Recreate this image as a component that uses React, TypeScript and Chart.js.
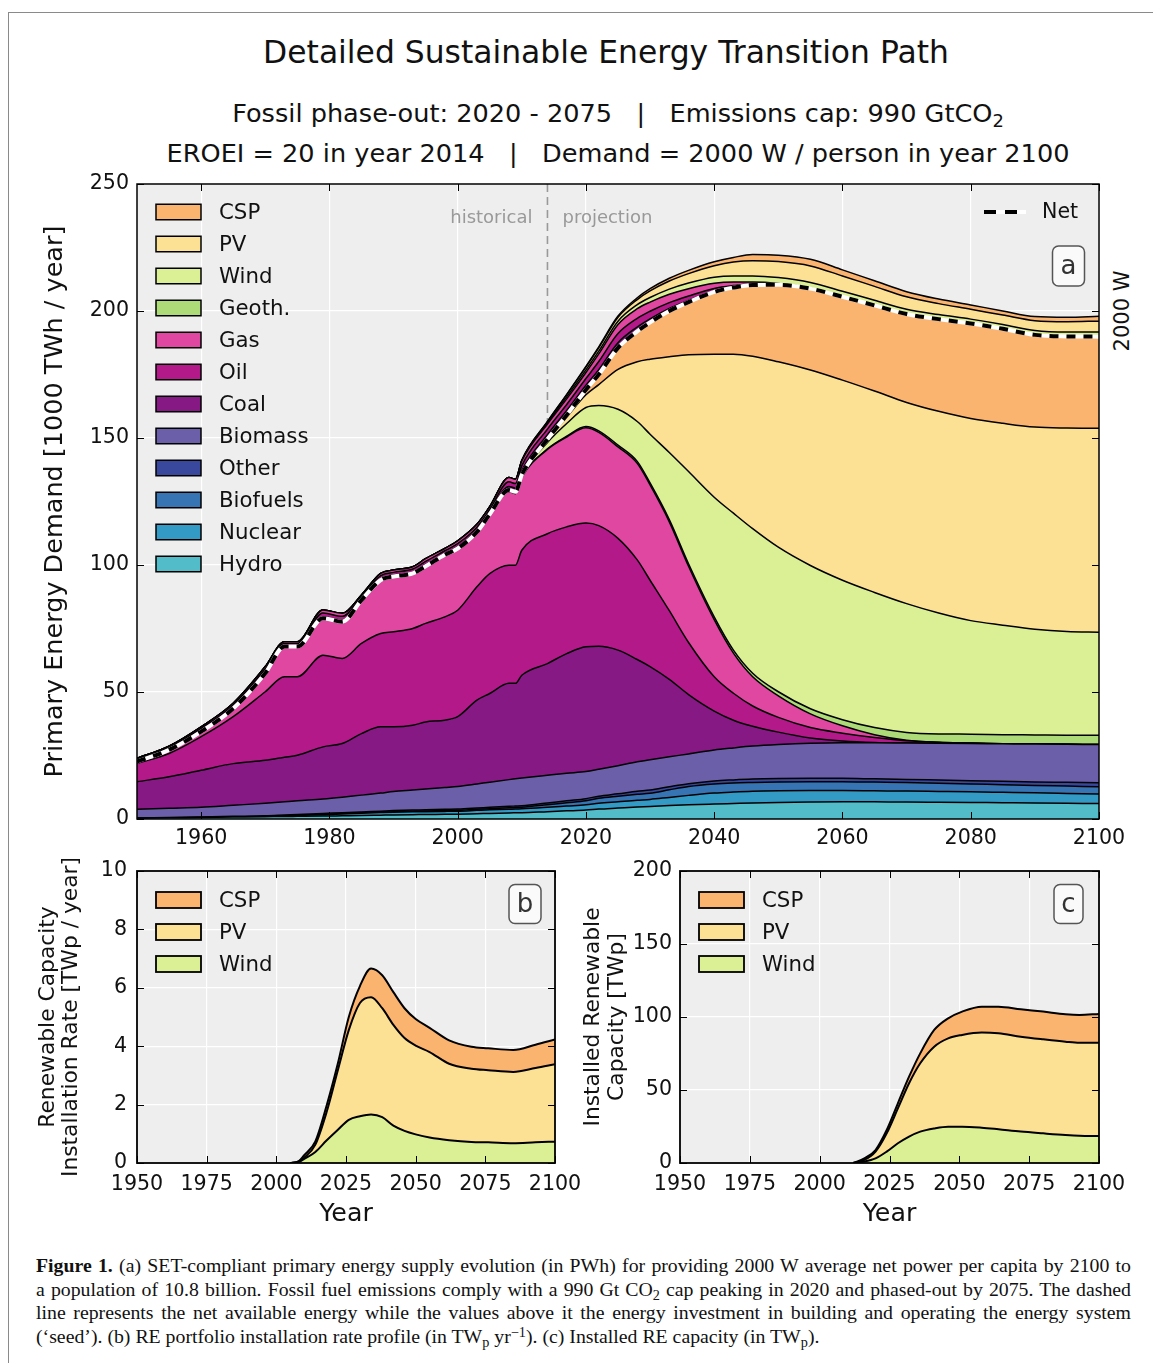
import React, { useEffect, useRef } from 'react';
import { Chart, registerables } from 'chart.js';

Chart.register(...registerables);

const SANS = '"DejaVu Sans", sans-serif';
const SERIF = '"Liberation Serif", "DejaVu Serif", serif';
const TEXT = '#111111';

// ---------------- Panel (a): primary energy [1000 TWh / year] ----------------
const yearsA = [1950, 1955, 1960, 1965, 1970, 1973, 1975, 1979, 1982, 1985, 1988, 1990, 1993, 1995, 1998, 2000, 2003, 2005, 2008, 2009, 2010, 2014, 2017, 2020, 2022, 2025, 2028, 2030, 2033, 2036, 2040, 2043, 2046, 2050, 2055, 2060, 2065, 2070, 2075, 2080, 2085, 2090, 2095, 2100];
const hydroA = [0.3, 0.45, 0.6, 0.75, 0.9, 1.0, 1.05, 1.15, 1.25, 1.35, 1.5, 1.6, 1.7, 1.75, 1.85, 1.9, 2.1, 2.2, 2.4, 2.45, 2.5, 2.9, 3.2, 3.5, 3.9, 4.3, 4.7, 4.9, 5.3, 5.6, 5.9, 6.1, 6.3, 6.5, 6.7, 6.8, 6.75, 6.7, 6.6, 6.5, 6.4, 6.3, 6.2, 6.1];
const nuclearA = [0, 0, 0, 0.05, 0.1, 0.2, 0.35, 0.55, 0.75, 0.95, 1.05, 1.1, 1.15, 1.15, 1.15, 1.2, 1.3, 1.4, 1.45, 1.45, 1.5, 1.7, 1.9, 2.1, 2.3, 2.5, 2.7, 2.8, 3.2, 3.7, 4.3, 4.5, 4.6, 4.6, 4.5, 4.4, 4.35, 4.3, 4.25, 4.2, 4.1, 4.0, 3.85, 3.7];
const biofuelsA = [0, 0, 0, 0, 0, 0.05, 0.05, 0.1, 0.1, 0.1, 0.15, 0.2, 0.2, 0.25, 0.3, 0.3, 0.4, 0.4, 0.55, 0.6, 0.6, 1.0, 1.3, 1.6, 2.0, 2.2, 2.3, 2.4, 3.0, 3.5, 3.6, 3.6, 3.5, 3.5, 3.5, 3.5, 3.45, 3.4, 3.25, 3.1, 3.0, 2.9, 2.9, 2.9];
const otherA = [0.1, 0.15, 0.2, 0.25, 0.3, 0.35, 0.35, 0.4, 0.4, 0.4, 0.4, 0.4, 0.45, 0.45, 0.5, 0.5, 0.5, 0.6, 0.6, 0.6, 0.6, 0.7, 0.8, 0.8, 0.8, 0.9, 1.2, 1.3, 1.2, 1.1, 1.2, 1.2, 1.3, 1.3, 1.3, 1.3, 1.25, 1.2, 1.25, 1.3, 1.35, 1.4, 1.5, 1.6];
const biomassA = [3.4, 3.6, 3.8, 4.35, 4.9, 5.2, 5.4, 5.7, 6.1, 6.6, 7.1, 7.5, 7.9, 8.2, 8.6, 8.9, 9.5, 9.9, 10.5, 10.7, 10.9, 10.9, 10.8, 10.7, 10.6, 11.1, 11.6, 11.9, 11.8, 11.7, 12.2, 12.6, 13.0, 13.4, 13.8, 14.0, 14.2, 14.3, 14.45, 14.6, 14.75, 14.9, 14.95, 15.0];
const coalA = [10.9, 12.4, 14.6, 16.4, 16.9, 17.5, 17.9, 20.5, 21.1, 24.2, 26.1, 25.5, 25.5, 26.4, 26.5, 27.5, 33.0, 34.9, 37.9, 37.6, 40.5, 44.0, 47.1, 49.1, 48.4, 45.5, 40.3, 36.7, 30.5, 23.4, 15.3, 10.9, 7.8, 4.9, 2.1, 0.7, 0.1, 0, 0, 0, 0, 0, 0, 0];
const oilA = [7.2, 9.2, 13.2, 18.5, 27.0, 31.7, 30.9, 36.1, 33.5, 35.5, 36.7, 37.4, 38.1, 38.8, 40.7, 41.9, 44.6, 47.2, 46.5, 46.5, 49.2, 51.1, 49.9, 48.7, 47.5, 44.0, 39.2, 34.0, 27.0, 20.5, 13.5, 10.6, 8.0, 5.8, 4.1, 3.1, 2.0, 0.9, 0.4, 0.2, 0, 0, 0, 0];
const gasA = [0.7, 1.4, 2.0, 3.2, 7.3, 11.9, 11.9, 14.5, 14.5, 17.1, 21.1, 21.8, 21.7, 22.5, 24.4, 24.3, 21.6, 23.1, 29.0, 28.2, 28.7, 33.2, 35.4, 37.5, 36.7, 36.0, 38.0, 37.5, 35.0, 30.0, 22.5, 15.8, 11.5, 8.5, 5.4, 2.9, 1.1, 0.2, 0, 0, 0, 0, 0, 0];
const geothA = [0, 0, 0, 0, 0, 0, 0, 0, 0, 0, 0, 0, 0, 0, 0, 0, 0, 0.05, 0.05, 0.05, 0.1, 0.2, 0.3, 0.5, 0.6, 0.7, 0.8, 0.8, 0.9, 1.0, 1.1, 1.2, 1.4, 1.6, 2.0, 2.4, 2.8, 3.1, 3.3, 3.5, 3.6, 3.6, 3.6, 3.7];
const windA = [0, 0, 0, 0, 0, 0, 0, 0, 0, 0, 0, 0, 0, 0, 0, 0, 0, 0.2, 0.4, 0.5, 0.7, 2.5, 5.0, 7.5, 10.0, 14.1, 15.7, 19.2, 26.4, 36.3, 47.1, 53.9, 56.9, 56.9, 56.4, 54.9, 53.2, 50.7, 47.6, 44.7, 43.1, 41.6, 40.8, 40.5];
const pvA = [0, 0, 0, 0, 0, 0, 0, 0, 0, 0, 0, 0, 0, 0, 0, 0, 0, 0, 0.1, 0.1, 0.2, 1.0, 2.5, 5.0, 8.2, 15.7, 23.5, 29.5, 37.7, 46.0, 56.3, 62.6, 67.9, 73.0, 77.0, 78.8, 79.3, 79.2, 79.4, 79.6, 79.5, 79.6, 80.1, 80.3];
const cspA = [0, 0, 0, 0, 0, 0, 0, 0, 0, 0, 0, 0, 0, 0, 0, 0, 0, 0, 0, 0, 0.05, 0.3, 0.8, 2.0, 4.0, 8.5, 12.0, 14.5, 18.0, 20.7, 24.5, 26.2, 28.0, 30.3, 32.0, 32.8, 33.7, 34.8, 36.3, 37.4, 37.2, 36.3, 36.1, 36.1];
// energy invested in the system ("seed"), stacked above the net line
const coalSeedA = [0.3, 0.3, 0.4, 0.4, 0.5, 0.4, 0.4, 0.6, 0.6, 0.5, 0.6, 0.6, 0.6, 0.7, 0.6, 0.7, 0.8, 0.8, 1.5, 1.5, 1.6, 1.8, 1.8, 1.8, 1.9, 2.0, 1.7, 1.4, 1.0, 0.7, 0.4, 0.2, 0.1, 0.05, 0, 0, 0, 0, 0, 0, 0, 0, 0, 0];
const oilSeedA = [0.6, 0.7, 0.9, 1.0, 1.2, 0.8, 0.8, 1.5, 1.5, 0.8, 1.1, 1.0, 1.1, 1.2, 1.0, 1.2, 1.1, 1.1, 1.8, 1.8, 2.0, 2.2, 2.4, 2.6, 3.2, 3.6, 3.4, 3.0, 2.3, 1.7, 1.0, 0.6, 0.3, 0.1, 0.05, 0, 0, 0, 0, 0, 0, 0, 0, 0];
const gasSeedA = [0.4, 0.5, 0.6, 0.7, 0.9, 0.7, 0.7, 1.2, 1.2, 0.7, 0.9, 0.9, 0.9, 1.1, 0.9, 1.1, 1.1, 1.1, 1.7, 1.7, 1.8, 2.0, 2.2, 2.4, 3.0, 3.6, 3.8, 3.6, 3.3, 2.9, 2.0, 1.4, 0.8, 0.4, 0.2, 0.1, 0, 0, 0, 0, 0, 0, 0, 0];
const windSeedA = [0, 0, 0, 0, 0, 0, 0, 0, 0, 0, 0, 0, 0, 0, 0, 0, 0, 0, 0, 0, 0.2, 0.5, 0.8, 1.0, 1.1, 1.3, 1.6, 1.8, 2.0, 2.2, 2.4, 2.4, 2.4, 2.3, 2.2, 2.1, 2.0, 1.9, 1.8, 1.7, 1.7, 1.7, 1.7, 1.8];
const pvSeedA = [0, 0, 0, 0, 0, 0, 0, 0, 0, 0, 0, 0, 0, 0, 0, 0, 0, 0, 0, 0, 0.1, 0.4, 0.8, 1.1, 1.3, 1.5, 2.0, 2.6, 3.2, 3.7, 4.5, 5.5, 6.0, 6.3, 6.5, 6.0, 5.5, 4.9, 4.3, 3.9, 3.7, 3.9, 4.1, 4.3];
const cspSeedA = [0, 0, 0, 0, 0, 0, 0, 0, 0, 0, 0, 0, 0, 0, 0, 0, 0, 0, 0, 0, 0, 0.1, 0.2, 0.3, 0.4, 0.5, 0.7, 0.9, 1.1, 1.3, 1.6, 1.8, 2.4, 2.5, 2.6, 2.4, 2.2, 2.0, 1.8, 1.7, 1.6, 1.6, 1.7, 1.9];
const netA = [22.6, 27.2, 34.4, 43.5, 57.4, 67.9, 67.9, 79.0, 77.7, 86.2, 94.1, 95.5, 96.7, 99.5, 104.0, 106.5, 113.0, 120.0, 129.5, 128.8, 135.5, 149.5, 159.0, 169.0, 175.0, 185.5, 192.0, 195.5, 200.0, 203.5, 207.5, 209.2, 210.2, 210.3, 208.8, 205.6, 202.2, 198.8, 196.8, 195.1, 193.0, 190.6, 190.0, 189.9];
const xTicksA = [1960, 1980, 2000, 2020, 2040, 2060, 2080, 2100];
const yTicksA = [0, 50, 100, 150, 200, 250];

// ---------------- Panel (b): installation rate [TWp / year] ----------------
const yearsB = [2005, 2008, 2010, 2014, 2018, 2022, 2026, 2030, 2034, 2038, 2042, 2046, 2050, 2055, 2062, 2070, 2076, 2085, 2093, 2100];
const windB = [0, 0.03, 0.14, 0.38, 0.77, 1.13, 1.48, 1.6, 1.66, 1.57, 1.28, 1.1, 0.98, 0.87, 0.78, 0.72, 0.71, 0.68, 0.71, 0.73];
const pvB = [0, 0.02, 0.04, 0.25, 0.96, 2.02, 3.07, 3.88, 4.02, 3.73, 3.45, 3.18, 3.04, 2.93, 2.62, 2.51, 2.47, 2.44, 2.54, 2.65];
const cspB = [0, 0.01, 0.09, 0.11, 0.22, 0.23, 0.45, 0.58, 0.98, 1.13, 1.12, 1.02, 0.91, 0.83, 0.8, 0.75, 0.75, 0.75, 0.8, 0.85];
const xTicksBC = [1950, 1975, 2000, 2025, 2050, 2075, 2100];
const yTicksB = [0, 2, 4, 6, 8, 10];

// ---------------- Panel (c): installed capacity [TWp] ----------------
const yearsC = [2012, 2016, 2020, 2024, 2028, 2032, 2036, 2041, 2046, 2051, 2058, 2064, 2072, 2080, 2088, 2093, 2100];
const windC = [0, 1, 3.2, 7.8, 13.5, 18.1, 21.5, 23.7, 24.9, 24.9, 24.2, 23.1, 21.5, 20.3, 19.2, 18.7, 18.5];
const pvC = [0, 1.1, 4.6, 12.5, 23.9, 36.5, 46.8, 56, 60.5, 62.8, 65.1, 65.7, 65, 64.4, 63.9, 63.7, 63.9];
const cspC = [0, 1.1, 1.1, 2.3, 3.5, 4.5, 6.8, 11.4, 13.7, 16, 17.8, 18.3, 18.8, 19, 18.8, 19, 19.7];
const yTicksC = [0, 50, 100, 150, 200];

const COLORS: Record<string, string> = {
  CSP: '#fbb46f',
  PV: '#fce195',
  Wind: '#dbef95',
  'Geoth.': '#addb77',
  Gas: '#df47a0',
  Oil: '#b41989',
  Coal: '#861983',
  Biomass: '#6c5faa',
  Other: '#39479d',
  Biofuels: '#3674b3',
  Nuclear: '#329ac5',
  Hydro: '#52bcc8',
};

function area(label: string, xs: number[], ys: number[], color: string, first: boolean, lw: number) {
  return {
    label,
    data: xs.map((x, i) => ({ x, y: ys[i] })),
    backgroundColor: color,
    borderColor: '#000000',
    borderWidth: lw,
    fill: first ? 'origin' : '-1',
    pointRadius: 0,
    pointHoverRadius: 0,
    cubicInterpolationMode: 'monotone',
    borderJoinStyle: 'round',
  };
}

function roundRect(ctx: CanvasRenderingContext2D, x: number, y: number, w: number, h: number, r: number) {
  ctx.beginPath();
  ctx.moveTo(x + r, y);
  ctx.arcTo(x + w, y, x + w, y + h, r);
  ctx.arcTo(x + w, y + h, x, y + h, r);
  ctx.arcTo(x, y + h, x, y, r);
  ctx.arcTo(x, y, x + w, y, r);
  ctx.closePath();
}

function makeDecor(cfg: any) {
  return {
    id: 'decor',
    beforeDraw(chart: any) {
      const { ctx, chartArea: a } = chart;
      ctx.save();
      ctx.fillStyle = '#eeeeee';
      ctx.fillRect(a.left, a.top, a.right - a.left, a.bottom - a.top);
      ctx.restore();
    },
    beforeDatasetsDraw(chart: any) {
      const v = cfg.vline;
      if (!v) return;
      const { ctx, chartArea: a } = chart;
      const x = chart.scales.x.getPixelForValue(v.value);
      ctx.save();
      ctx.strokeStyle = v.color;
      ctx.lineWidth = 1.6;
      ctx.setLineDash([8, 5]);
      ctx.beginPath();
      ctx.moveTo(x, a.top);
      ctx.lineTo(x, a.bottom);
      ctx.stroke();
      ctx.setLineDash([]);
      ctx.fillStyle = v.color;
      ctx.font = `${v.font}px ${SANS}`;
      ctx.textBaseline = 'alphabetic';
      ctx.textAlign = 'right';
      ctx.fillText(v.leftText, x - v.gap, a.top + v.baseline);
      ctx.textAlign = 'left';
      ctx.fillText(v.rightText, x + v.gap, a.top + v.baseline);
      ctx.restore();
    },
    afterDatasetsDraw(chart: any) {
      const { ctx, chartArea: a, scales } = chart;
      ctx.save();
      // inward tick marks on all four sides
      ctx.strokeStyle = '#000000';
      ctx.lineWidth = 1;
      ctx.beginPath();
      for (const t of scales.x.ticks) {
        const px = Math.round(scales.x.getPixelForValue(t.value)) + 0.5;
        ctx.moveTo(px, a.bottom);
        ctx.lineTo(px, a.bottom - cfg.tickLen);
        ctx.moveTo(px, a.top);
        ctx.lineTo(px, a.top + cfg.tickLen);
      }
      for (const t of scales.y.ticks) {
        const py = Math.round(scales.y.getPixelForValue(t.value)) + 0.5;
        ctx.moveTo(a.left, py);
        ctx.lineTo(a.left + cfg.tickLen, py);
        ctx.moveTo(a.right, py);
        ctx.lineTo(a.right - cfg.tickLen, py);
      }
      ctx.stroke();
      // frame
      ctx.lineWidth = cfg.frame;
      ctx.strokeRect(a.left, a.top, a.right - a.left, a.bottom - a.top);
      // legend
      const L = cfg.legend;
      ctx.font = `${L.font}px ${SANS}`;
      ctx.textBaseline = 'middle';
      ctx.textAlign = 'left';
      L.items.forEach((it: any, i: number) => {
        const cy = a.top + L.firstY + i * L.step;
        const bx = a.left + L.boxX;
        ctx.fillStyle = it.color;
        ctx.fillRect(bx, cy - L.boxH / 2, L.boxW, L.boxH);
        ctx.lineWidth = L.lw;
        ctx.strokeStyle = '#000000';
        ctx.strokeRect(bx, cy - L.boxH / 2, L.boxW, L.boxH);
        ctx.fillStyle = TEXT;
        ctx.fillText(it.label, a.left + L.textX, cy + 1);
      });
      // "Net" legend entry
      const N = cfg.net;
      if (N) {
        const y = a.top + N.y;
        ctx.lineWidth = 4;
        ctx.strokeStyle = '#ffffff';
        ctx.beginPath();
        ctx.moveTo(a.right + N.x0, y);
        ctx.lineTo(a.right + N.x1, y);
        ctx.stroke();
        ctx.strokeStyle = '#000000';
        ctx.setLineDash([12, 9]);
        ctx.beginPath();
        ctx.moveTo(a.right + N.x0, y);
        ctx.lineTo(a.right + N.x1, y);
        ctx.stroke();
        ctx.setLineDash([]);
        ctx.fillStyle = TEXT;
        ctx.font = `${N.font}px ${SANS}`;
        ctx.textAlign = 'left';
        ctx.textBaseline = 'middle';
        ctx.fillText(N.text, a.right + N.textX, y + 1);
      }
      // panel badge
      const B = cfg.badge;
      const bx = a.right - B.right - B.w;
      const by = a.top + B.top;
      roundRect(ctx, bx, by, B.w, B.h, 6);
      ctx.fillStyle = '#fafafa';
      ctx.fill();
      ctx.lineWidth = 1.5;
      ctx.strokeStyle = '#555555';
      ctx.stroke();
      ctx.fillStyle = '#333333';
      ctx.font = `${B.font}px ${SANS}`;
      ctx.textAlign = 'center';
      ctx.textBaseline = 'alphabetic';
      ctx.fillText(B.text, bx + B.w / 2, by + B.baseline);
      ctx.restore();
    },
  };
}

function scalesFor(o: any) {
  return {
    x: {
      type: 'linear',
      min: o.xMin,
      max: o.xMax,
      afterBuildTicks: (s: any) => {
        s.ticks = o.xTicks.map((v: number) => ({ value: v }));
      },
      afterFit: (s: any) => {
        s.height = o.xH;
        s.paddingLeft = 0;
        s.paddingRight = 0;
      },
      ticks: {
        callback: (v: any) => String(v),
        color: TEXT,
        font: { family: SANS, size: o.tickFont },
        padding: o.xPad,
        maxRotation: 0,
        autoSkip: false,
      },
      grid: { color: '#ffffff', lineWidth: 1.2, drawTicks: false },
      border: { display: false },
      title: o.xTitle
        ? { display: true, text: o.xTitle, color: TEXT, font: { family: SANS, size: o.xTitleFont }, padding: { top: 0, bottom: o.xTitlePadB } }
        : { display: false },
    },
    y: {
      type: 'linear',
      min: o.yMin,
      max: o.yMax,
      stacked: true,
      afterBuildTicks: (s: any) => {
        s.ticks = o.yTicks.map((v: number) => ({ value: v }));
      },
      afterFit: (s: any) => {
        s.width = o.yW;
        s.paddingTop = 0;
        s.paddingBottom = 0;
      },
      ticks: {
        callback: (v: any) => String(v),
        color: TEXT,
        font: { family: SANS, size: o.tickFont },
        padding: o.yPad,
      },
      grid: { color: '#ffffff', lineWidth: 1.2, drawTicks: false },
      border: { display: false },
      title: {
        display: true,
        text: o.yTitle,
        color: TEXT,
        font: { family: SANS, size: o.yTitleFont, lineHeight: o.yTitleLH },
        padding: { top: o.yTitlePadT, bottom: 0 },
      },
    },
  };
}

function buildA() {
  const layers: [string, number[], string][] = [
    ['Hydro', hydroA, COLORS.Hydro],
    ['Nuclear', nuclearA, COLORS.Nuclear],
    ['Biofuels', biofuelsA, COLORS.Biofuels],
    ['Other', otherA, COLORS.Other],
    ['Biomass', biomassA, COLORS.Biomass],
    ['Coal', coalA, COLORS.Coal],
    ['Oil', oilA, COLORS.Oil],
    ['Gas', gasA, COLORS.Gas],
    ['Geoth.', geothA, COLORS['Geoth.']],
    ['Wind', windA, COLORS.Wind],
    ['PV', pvA, COLORS.PV],
    ['CSP', cspA, COLORS.CSP],
    ['Coal seed', coalSeedA, COLORS.Coal],
    ['Oil seed', oilSeedA, COLORS.Oil],
    ['Gas seed', gasSeedA, COLORS.Gas],
    ['Wind seed', windSeedA, COLORS.Wind],
    ['PV seed', pvSeedA, COLORS.PV],
    ['CSP seed', cspSeedA, COLORS.CSP],
  ];
  const datasets: any[] = layers.map(([l, v, c], i) => area(l, yearsA, v, c, i === 0, 1.5));
  const netPts = yearsA.map((x, i) => ({ x, y: netA[i] }));
  datasets.push({
    label: 'Net (under)', data: netPts, stack: 'netUnder', borderColor: '#ffffff', borderWidth: 4,
    fill: false, pointRadius: 0, cubicInterpolationMode: 'monotone', order: -1,
  });
  datasets.push({
    label: 'Net', data: netPts, stack: 'netOver', borderColor: '#000000', borderWidth: 4, borderDash: [9, 8],
    fill: false, pointRadius: 0, cubicInterpolationMode: 'monotone', order: -2,
  });
  const legendItems = ['CSP', 'PV', 'Wind', 'Geoth.', 'Gas', 'Oil', 'Coal', 'Biomass', 'Other', 'Biofuels', 'Nuclear', 'Hydro'].map((l) => ({ label: l, color: COLORS[l] }));
  return {
    type: 'line',
    data: { datasets },
    options: {
      responsive: false,
      animation: false,
      devicePixelRatio: 1,
      events: [],
      layout: { padding: { top: 14, right: 54, bottom: 0, left: 0 } },
      plugins: { legend: { display: false }, tooltip: { enabled: false }, title: { display: false } },
      scales: scalesFor({
        xMin: 1950, xMax: 2100, xTicks: xTicksA, xH: 31, xPad: 7.5, tickFont: 20.6,
        yMin: 0, yMax: 250, yTicks: yTicksA, yW: 137, yPad: 8,
        yTitle: 'Primary Energy Demand [1000 TWh / year]', yTitleFont: 25.5, yTitleLH: 1.2, yTitlePadT: 39.7,
      }),
    },
    plugins: [
      makeDecor({
        frame: 1.5,
        tickLen: 7,
        vline: { value: 2014, color: '#999999', leftText: 'historical', rightText: 'projection', gap: 15, baseline: 39, font: 18 },
        legend: { items: legendItems, boxX: 19, textX: 82, firstY: 28, step: 32, boxW: 45, boxH: 15.5, font: 21.3, lw: 1.5 },
        net: { x0: -115, x1: -73, y: 28, textX: -57, font: 20.6, text: 'Net' },
        badge: { text: 'a', right: 14.5, top: 62, w: 32, h: 40, font: 26, baseline: 27.5 },
      }),
    ],
  };
}

function buildSmall(p: any) {
  const datasets = [
    area('Wind', p.years, p.wind, COLORS.Wind, true, 2),
    area('PV', p.years, p.pv, COLORS.PV, false, 2),
    area('CSP', p.years, p.csp, COLORS.CSP, false, 2),
  ];
  const legendItems = ['CSP', 'PV', 'Wind'].map((l) => ({ label: l, color: COLORS[l] }));
  return {
    type: 'line',
    data: { datasets },
    options: {
      responsive: false,
      animation: false,
      devicePixelRatio: 1,
      events: [],
      layout: { padding: { top: 21, right: p.padR, bottom: 0, left: 0 } },
      plugins: { legend: { display: false }, tooltip: { enabled: false }, title: { display: false } },
      scales: scalesFor({
        xMin: 1950, xMax: 2100, xTicks: xTicksBC, xH: 77, xPad: 8.8, tickFont: 20.6,
        xTitle: 'Year', xTitleFont: 25.3, xTitlePadB: 10.8,
        yMin: 0, yMax: p.yMax, yTicks: p.yTicks, yW: p.yW, yPad: p.yPad,
        yTitle: p.yTitle, yTitleFont: 21.8, yTitleLH: p.yTitleLH, yTitlePadT: p.yTitlePadT,
      }),
    },
    plugins: [
      makeDecor({
        frame: 1.8,
        tickLen: 7,
        legend: { items: legendItems, boxX: 19, textX: 82, firstY: 29, step: 32, boxW: 45, boxH: 16, font: 21.3, lw: 1.8 },
        badge: { text: p.badge, right: p.badgeRight, top: 13.5, w: p.badgeW, h: 39, font: 26, baseline: 27.5 },
      }),
    ],
  };
}

function ChartCanvas({ left, top, width, height, build }: any) {
  const ref = useRef<HTMLCanvasElement>(null);
  useEffect(() => {
    const chart = new Chart(ref.current as HTMLCanvasElement, build());
    return () => chart.destroy();
  }, []);
  return (
    <canvas
      ref={ref}
      width={width}
      height={height}
      style={{ position: 'absolute', left, top, width, height }}
    />
  );
}

function Label({ x, top, size, children }: any) {
  return (
    <div
      style={{
        position: 'absolute', left: x, top, transform: 'translateX(-50%)', fontSize: size,
        lineHeight: 1, whiteSpace: 'pre', fontFamily: SANS, color: TEXT,
      }}
    >
      {children}
    </div>
  );
}

const sub: any = { fontSize: '0.7em', verticalAlign: '-0.3em', lineHeight: 0 };
const capSub: any = { fontSize: '0.72em', verticalAlign: '-0.25em', lineHeight: 0 };
const capSup: any = { fontSize: '0.72em', verticalAlign: '0.45em', lineHeight: 0 };

function CaptionLine({ top, last, children }: any) {
  return (
    <div
      style={{
        position: 'absolute', left: 36, top, width: 1095, fontFamily: SERIF, fontSize: 19.8,
        lineHeight: '23.5px', whiteSpace: 'nowrap', textAlign: last ? 'left' : 'justify',
        textAlignLast: last ? 'left' : 'justify', color: TEXT,
      }}
    >
      {children}
    </div>
  );
}

export default function App() {
  return (
    <div style={{ position: 'absolute', left: 0, top: 0, width: 1153, height: 1363, overflow: 'hidden', background: '#ffffff' }}>
      <div style={{ position: 'absolute', left: 8, top: 12, width: 1400, height: 1600, borderLeft: '1.5px solid #8a8a8a', borderTop: '1.5px solid #8a8a8a' }} />
      <Label x={606} top={37.3} size={31.4}>Detailed Sustainable Energy Transition Path</Label>
      <Label x={618} top={100.8} size={25.6}>
        {'Fossil phase-out: 2020 - 2075   |   Emissions cap: 990 GtCO'}<span style={sub}>2</span>
      </Label>
      <Label x={618} top={140.6} size={25.6}>{'EROEI = 20 in year 2014   |   Demand = 2000 W / person in year 2100'}</Label>
      <div
        style={{
          position: 'absolute', left: 1122, top: 311, transform: 'translate(-50%, -50%) rotate(-90deg)',
          fontFamily: SANS, fontSize: 21, lineHeight: 1, whiteSpace: 'nowrap', color: TEXT,
        }}
      >
        2000 W
      </div>
      <ChartCanvas left={0} top={170} width={1153} height={680} build={buildA} />
      <ChartCanvas
        left={0} top={850} width={600} height={390}
        build={() => buildSmall({
          years: yearsB, wind: windB, pv: pvB, csp: cspB, yMax: 10, yTicks: yTicksB, yW: 137, yPad: 10, padR: 45,
          yTitle: ['Renewable Capacity', 'Installation Rate [TWp / year]'], yTitleLH: 1.064, yTitlePadT: 37,
          badge: 'b', badgeRight: 14, badgeW: 32,
        })}
      />
      <ChartCanvas
        left={570} top={850} width={583} height={390}
        build={() => buildSmall({
          years: yearsC, wind: windC, pv: pvC, csp: cspC, yMax: 200, yTicks: yTicksC, yW: 110, yPad: 8, padR: 54,
          yTitle: ['Installed Renewable', 'Capacity [TWp]'], yTitleLH: 1.087, yTitlePadT: 11.75,
          badge: 'c', badgeRight: 16, badgeW: 29,
        })}
      />
      <CaptionLine top={1254}>
        <b>Figure 1.</b> (a) SET-compliant primary energy supply evolution (in PWh) for providing 2000 W average net power per capita by 2100 to
      </CaptionLine>
      <CaptionLine top={1277.5}>
        a population of 10.8 billion. Fossil fuel emissions comply with a 990 Gt CO<span style={capSub}>2</span> cap peaking in 2020 and phased-out by 2075. The dashed
      </CaptionLine>
      <CaptionLine top={1301}>
        line represents the net available energy while the values above it the energy investment in building and operating the energy system
      </CaptionLine>
      <CaptionLine top={1324.5} last>
        (‘seed’). (b) RE portfolio installation rate profile (in TW<span style={capSub}>p</span> yr<span style={capSup}>−1</span>). (c) Installed RE capacity (in TW<span style={capSub}>p</span>).
      </CaptionLine>
    </div>
  );
}
